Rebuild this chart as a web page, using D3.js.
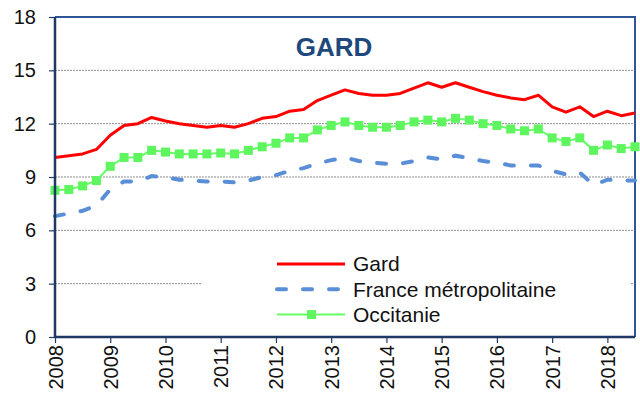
<!DOCTYPE html>
<html lang="fr">
<head>
<meta charset="UTF-8">
<title>GARD</title>
<script src="https://d3js.org/d3.v7.min.js"></script>
<style>
  body { margin: 0; background: #fff; }
  text { font-family: "Liberation Sans", Arial, sans-serif; }
</style>
</head>
<body>
<div id="chart"></div>
<script>
// quarterly values, from 2008 Q1 to 2018 Q3
var gard = [10.1, 10.2, 10.3, 10.55, 11.35, 11.9, 12.0, 12.35, 12.15, 12.0, 11.9, 11.8,
            11.9, 11.8, 12.0, 12.3, 12.4, 12.7, 12.8, 13.3, 13.6, 13.9, 13.7, 13.6,
            13.6, 13.7, 14.0, 14.3, 14.05, 14.3, 14.05, 13.8, 13.6, 13.45, 13.35, 13.6,
            12.95, 12.65, 12.95, 12.4, 12.7, 12.45, 12.6];
var france = [6.8, 6.95, 7.1, 7.4, 8.3, 8.75, 8.75, 9.05, 9.0, 8.85, 8.8, 8.75,
              8.75, 8.7, 8.8, 9.0, 9.1, 9.35, 9.5, 9.75, 9.95, 10.1, 9.9, 9.8,
              9.75, 9.75, 9.9, 10.1, 10.0, 10.2, 10.05, 9.9, 9.8, 9.65, 9.65, 9.65,
              9.35, 9.15, 9.25, 8.55, 8.85, 8.8, 8.8];
var occitanie = [8.25, 8.3, 8.5, 8.8, 9.6, 10.1, 10.1, 10.5, 10.4, 10.3, 10.3, 10.3,
                 10.35, 10.3, 10.5, 10.7, 10.9, 11.2, 11.2, 11.65, 11.9, 12.1, 11.9, 11.8,
                 11.8, 11.9, 12.1, 12.2, 12.1, 12.3, 12.2, 12.0, 11.9, 11.7, 11.6, 11.7,
                 11.2, 11.0, 11.2, 10.5, 10.8, 10.6, 10.7];
var years = [2008, 2009, 2010, 2011, 2012, 2013, 2014, 2015, 2016, 2017, 2018];
var yTicks = [0, 3, 6, 9, 12, 15, 18];

var width = 640, height = 405;
var margin = {top: 17, right: 5, bottom: 68, left: 55};
var w = width - margin.left - margin.right,
    h = height - margin.top - margin.bottom;

var svg = d3.select("#chart").append("svg")
    .attr("width", width)
    .attr("height", height);

var g = svg.append("g")
    .attr("transform", "translate(" + margin.left + "," + margin.top + ")");

var x = d3.scaleLinear().domain([2008, 2018.5]).range([0, w]);
var y = d3.scaleLinear().domain([0, 18]).range([h, 0]);

function t(i) { return 2008 + i / 4; }

// grid lines
g.selectAll(".grid")
  .data(yTicks.filter(function(d) { return d > 0 && d < 18; }))
  .enter().append("line")
    .attr("x1", 0).attr("x2", w)
    .attr("y1", function(d) { return y(d); })
    .attr("y2", function(d) { return y(d); })
    .attr("stroke", "#8c8c8c")
    .attr("stroke-width", 1)
    .attr("stroke-dasharray", "2,1");

// white legend box hides the grid under it
g.append("rect")
  .attr("x", 146).attr("y", 222)
  .attr("width", 430).attr("height", 92)
  .attr("fill", "#fff");

// top and right border
g.append("path")
  .attr("d", "M0,0H" + w + "V" + h)
  .attr("fill", "none")
  .attr("stroke", "#2e5597")
  .attr("stroke-width", 2);

// title
g.append("text")
  .attr("x", 279).attr("y", 39)
  .attr("text-anchor", "middle")
  .attr("font-size", 26).attr("font-weight", "bold")
  .attr("fill", "#1f497d")
  .text("GARD");

// series
var line = d3.line()
  .x(function(d, i) { return x(t(i)); })
  .y(function(d) { return y(d); });

g.append("path").datum(france)
  .attr("d", line)
  .attr("fill", "none")
  .attr("stroke", "#5a8fd8")
  .attr("stroke-width", 4)
  .attr("stroke-linecap", "round")
  .attr("stroke-dasharray", "9,17");

g.append("path").datum(occitanie)
  .attr("d", line)
  .attr("fill", "none")
  .attr("stroke", "#66ff66")
  .attr("stroke-width", 2);

g.selectAll(".mk").data(occitanie).enter().append("rect")
  .attr("x", function(d, i) { return x(t(i)) - 4.5; })
  .attr("y", function(d) { return y(d) - 4.5; })
  .attr("width", 9).attr("height", 9)
  .attr("fill", "#5ef55e");

g.append("path").datum(gard)
  .attr("d", line)
  .attr("fill", "none")
  .attr("stroke", "#ff0000")
  .attr("stroke-width", 3)
  .attr("stroke-linejoin", "round");

// axes
var yAxis = g.append("g")
  .call(d3.axisLeft(y).tickValues(yTicks).tickSize(6).tickPadding(13));
var xAxis = g.append("g")
  .attr("transform", "translate(0," + h + ")")
  .call(d3.axisBottom(x).tickValues(years).tickFormat(d3.format("d")).tickSize(6).tickPadding(8));

[yAxis, xAxis].forEach(function(a) {
  a.select(".domain").attr("stroke", "#1f3864").attr("stroke-width", 2.5);
  a.selectAll(".tick line").attr("stroke", "#1f3864").attr("stroke-width", 1.2);
  a.selectAll("text").attr("font-size", 20).attr("fill", "#111")
    .attr("font-family", "'Liberation Sans', Arial, sans-serif");
});
xAxis.select(".domain").attr("d", "M0,0H" + w);
yAxis.select(".domain").attr("d", "M0,0V" + h);

xAxis.selectAll("text")
  .attr("transform", "rotate(-90)")
  .attr("text-anchor", "end")
  .attr("dy", "0.35em")
  .attr("x", -8)
  .attr("y", 0);

// legend
var legend = [
  {name: "Gard", color: "#ff0000", width: 3, dash: null, marker: false},
  {name: "France métropolitaine", color: "#5a8fd8", width: 4, dash: "9,17", marker: false},
  {name: "Occitanie", color: "#66ff66", width: 2, dash: null, marker: true}
];
var lg = g.selectAll(".lg").data(legend).enter().append("g")
  .attr("transform", function(d, i) { return "translate(222," + (247 + i * 25.3) + ")"; });
lg.append("line")
  .attr("x1", 0).attr("x2", 68)
  .attr("stroke", function(d) { return d.color; })
  .attr("stroke-width", function(d) { return d.width; })
  .attr("stroke-linecap", function(d) { return d.dash ? "round" : "butt"; })
  .attr("stroke-dasharray", function(d) { return d.dash; });
lg.filter(function(d) { return d.marker; }).append("rect")
  .attr("x", 30).attr("y", -4.5).attr("width", 9).attr("height", 9)
  .attr("fill", "#5ef55e");
lg.append("text")
  .attr("x", 76).attr("dy", "0.35em")
  .attr("font-size", 21).attr("fill", "#111")
  .text(function(d) { return d.name; });
</script>
</body>
</html>
